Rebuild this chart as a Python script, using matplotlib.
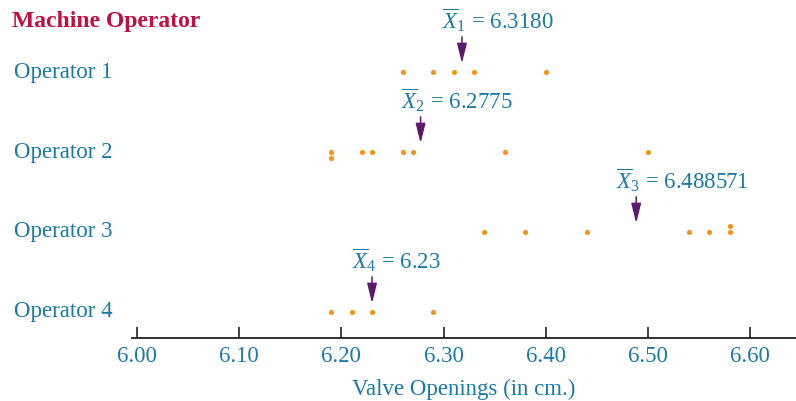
import matplotlib.pyplot as plt
from matplotlib.transforms import blended_transform_factory

# data
operators = ['Operator 1', 'Operator 2', 'Operator 3', 'Operator 4']
op1 = [6.26, 6.29, 6.31, 6.33, 6.40]
op2 = [6.19, 6.19, 6.22, 6.23, 6.26, 6.27, 6.36, 6.50]
op3 = [6.34, 6.38, 6.44, 6.54, 6.56, 6.58, 6.58]
op4 = [6.19, 6.21, 6.23, 6.29]
means = [6.3180, 6.2775, 6.488571, 6.23]
mean_labels = ['6.3180', '6.2775', '6.488571', '6.23']
ticks = [6.00, 6.10, 6.20, 6.30, 6.40, 6.50, 6.60]
stack_dir = [1, 1, -1, 1]  # duplicates stack down (+) or up (-)

teal = '#1a7ba8'
orange = '#f7941d'
purple = '#5b1a6b'
crimson = '#c0103f'

plt.rcParams['font.family'] = ['Liberation Serif', 'DejaVu Serif']
plt.rcParams['mathtext.fontset'] = 'custom'
plt.rcParams['mathtext.rm'] = 'Liberation Serif'
plt.rcParams['mathtext.it'] = 'Liberation Serif:italic'

fig = plt.figure(figsize=(7.96, 4.01), dpi=100)
ax = fig.add_axes([132 / 796, 63 / 401, 664 / 796, 338 / 401])
ax.set_xlim(5.995, 6.645)
ax.set_ylim(4.325, 0.1)

for i, vals in enumerate([op1, op2, op3, op4]):
    row = i + 1
    seen = {}
    ys = []
    for v in vals:
        n = seen.get(v, 0)
        seen[v] = n + 1
        ys.append(row + stack_dir[i] * 0.075 * n)
    ax.scatter(vals, ys, s=14, color=orange, zorder=3, linewidths=0)

    m = means[i]
    ax.annotate('', xy=(m, row - 0.11), xytext=(m, row - 0.44),
                arrowprops=dict(arrowstyle='-|>,head_length=1.0,head_width=0.25',
                                color=purple, lw=1.1,
                                mutation_scale=12, shrinkA=0, shrinkB=0))
    ax.annotate(r'$\overline{X}_{%d}$ = %s' % (row, mean_labels[i]),
                xy=(m, row), xytext=(-20, 52), textcoords='offset pixels',
                ha='left', va='center', color=teal, fontsize=16.5)

trans = blended_transform_factory(fig.transFigure, ax.transData)
for i, name in enumerate(operators):
    ax.text(14 / 796, i + 1, name, transform=trans, ha='left', va='center',
            color=teal, fontsize=16.5)

fig.text(12 / 796, 1 - 21 / 401, 'Machine Operator', ha='left', va='center',
         color=crimson, fontsize=17, fontweight='bold')

for s in ['top', 'right', 'left']:
    ax.spines[s].set_visible(False)
ax.spines['bottom'].set_color('#222222')
ax.spines['bottom'].set_linewidth(1.3)
ax.set_yticks([])
ax.set_xticks(ticks)
ax.set_xticklabels(['%.2f' % t for t in ticks])
ax.tick_params(axis='x', direction='in', length=8, width=1.3, color='#333333',
               labelcolor=teal, labelsize=16.5, pad=6)
ax.set_xlabel('Valve Openings (in cm.)', color=teal, fontsize=16.5, labelpad=8)
ax.patch.set_visible(False)

fig.savefig('out.png', dpi=100)
